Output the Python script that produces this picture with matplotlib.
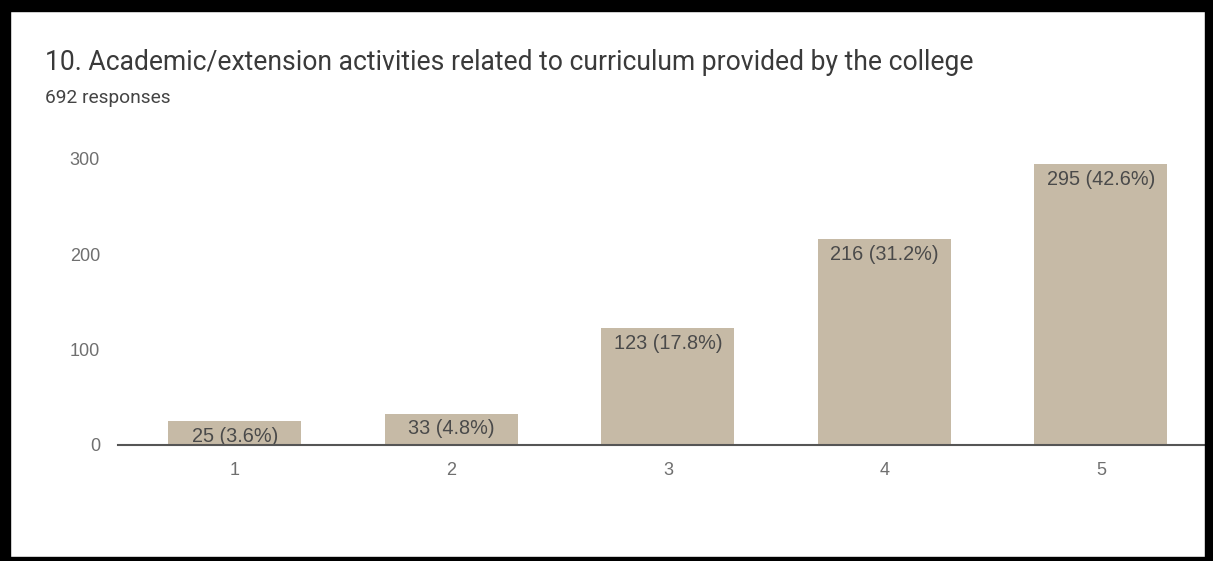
import matplotlib.pyplot as plt
from matplotlib.patches import Rectangle

categories = ["1", "2", "3", "4", "5"]
counts = [25, 33, 123, 216, 295]
percents = [3.6, 4.8, 17.8, 31.2, 42.6]
y_ticks = [0, 100, 200, 300]

plt.rcParams["font.family"] = ["Liberation Sans", "DejaVu Sans"]

fig = plt.figure(figsize=(12.13, 5.61), dpi=100)
ax = fig.add_axes([0.0973, 0.2068, 0.896, 0.5098])

x = list(range(len(categories)))
bars = ax.bar(x, counts, width=0.614, color="#c6baa6", zorder=2)

for b, c, p in zip(bars, counts, percents):
    ax.annotate(f"{c} ({p}%)", (b.get_x() + b.get_width() / 2, c),
                xytext=(0, -11), textcoords="offset points",
                ha="center", va="center", fontsize=14.3, color="#4a4a4a", zorder=3)

ax.set_xlim(-0.54, 4.48)
ax.set_ylim(0, 300)
ax.set_xticks(x)
ax.set_xticklabels(categories)
ax.set_yticks(y_ticks)
ax.tick_params(axis="both", length=0, labelsize=13, labelcolor="#6f6f6f")
ax.tick_params(axis="x", pad=12)
ax.tick_params(axis="y", pad=13)

for s in ["top", "right", "left"]:
    ax.spines[s].set_visible(False)
ax.spines["bottom"].set_color("#555555")
ax.spines["bottom"].set_linewidth(1.5)
ax.spines["bottom"].set_zorder(4)

fig.text(45 / 1213, 1 - 63 / 561, "10. Academic/extension activities related to curriculum provided by the college",
         fontsize=19.1, color="#3a3a3a", va="center", ha="left", family=["Roboto", "DejaVu Sans"])
fig.text(45 / 1213, 1 - 98 / 561, "692 responses", fontsize=13.8, color="#444444", va="center", ha="left",
         family=["Roboto", "DejaVu Sans"])

# black frame around the screenshot
frame = [
    (0, 1 - 11 / 561, 1, 11 / 561),
    (0, 0, 10 / 1213, 1),
    (1 - 8 / 1213, 0, 8 / 1213, 1),
    (0, 0, 1, 4 / 561),
]
for fx, fy, fw, fh in frame:
    fig.add_artist(Rectangle((fx, fy), fw, fh, transform=fig.transFigure, color="black", zorder=10))

fig.savefig("out.png", dpi=100)
